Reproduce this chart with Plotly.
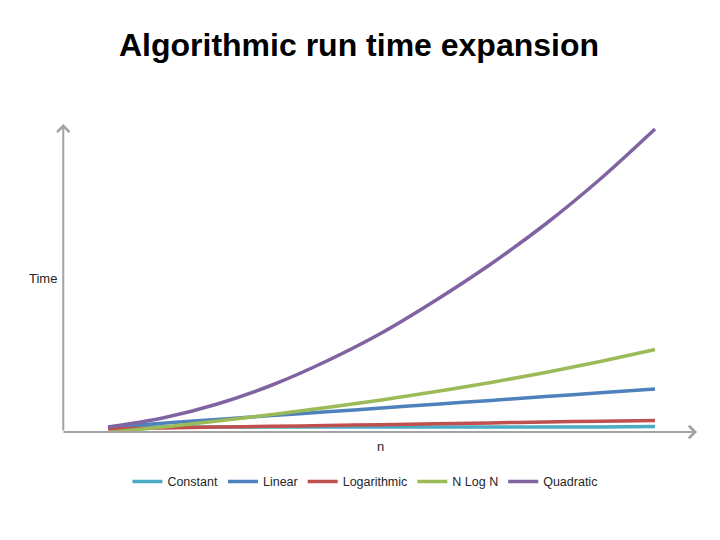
import plotly.graph_objects as go

n = [1, 2, 3, 4, 5, 6, 7, 8, 9, 10, 11]
constant = [5, 5, 5, 5, 5, 5, 5, 5, 5, 5, 5.5]
linear = [5, 8.8, 12.6, 16.4, 20.2, 24, 27.8, 31.6, 35.4, 39.2, 43]
logarithmic = [3, 4, 5, 5.7, 6.5, 7.3, 8.2, 9.1, 10, 10.8, 11.6]
nlogn = [-0.5, 5, 11, 17.5, 24.5, 32, 40.5, 49.5, 59.5, 70.5, 82.5]
quadratic = [5, 14, 28, 47, 71, 99, 132, 168, 208, 253, 303]

series = [
    ("Constant", constant, "#4bacc6"),
    ("Linear", linear, "#4f81bd"),
    ("Logarithmic", logarithmic, "#c0504d"),
    ("N Log N", nlogn, "#9bbb59"),
    ("Quadratic", quadratic, "#8064a2"),
]

fig = go.Figure()
for name, vals, col in series:
    fig.add_trace(go.Scatter(x=n, y=vals, mode="lines", name=name,
                             line=dict(color=col, width=3.5, shape="spline"),
                             hoverinfo="skip"))

axis_col = "#a3a3a3"
fig.update_layout(
    width=720, height=540,
    paper_bgcolor="white", plot_bgcolor="white",
    margin=dict(l=62, r=23, t=124, b=108),
    title=dict(text="Algorithmic run time expansion", x=359 / 720, xanchor="center",
               y=1 - 45 / 540, yanchor="middle",
               font=dict(family="Liberation Sans, Arial", size=32, color="black",
                         weight="bold")),
    xaxis=dict(range=[0.159, 11.768], visible=False, fixedrange=True),
    yaxis=dict(range=[0, 308], visible=False, fixedrange=True),
    showlegend=True,
    legend=dict(orientation="h", x=0.477, xanchor="center", y=-0.162, yanchor="middle",
                font=dict(family="Liberation Sans, Arial", size=12.5, color="#262626"),
                bgcolor="rgba(0,0,0,0)"),
    annotations=[
        dict(x=0.002, y=1, xref="paper", yref="paper", text="", showarrow=True,
             ax=0, ay=308, axref="pixel", ayref="pixel", arrowhead=4, arrowsize=1.2,
             arrowwidth=2, arrowcolor=axis_col, standoff=0, startstandoff=0),
        dict(x=1, y=0, xref="paper", yref="paper", text="", showarrow=True,
             ax=-635, ay=0, axref="pixel", ayref="pixel", arrowhead=4, arrowsize=1.2,
             arrowwidth=2, arrowcolor=axis_col, standoff=0, startstandoff=0),
        dict(x=-0.005, y=0.5, xref="paper", yref="paper", text="Time", showarrow=False,
             xanchor="right", yanchor="middle",
             font=dict(family="Liberation Sans, Arial", size=13, color="#262626")),
        dict(x=0.502, y=-0.0487, xref="paper", yref="paper", text="n", showarrow=False,
             xanchor="center", yanchor="middle",
             font=dict(family="Liberation Sans, Arial", size=13, color="#262626")),
    ],
)

fig.write_html("out.html")
